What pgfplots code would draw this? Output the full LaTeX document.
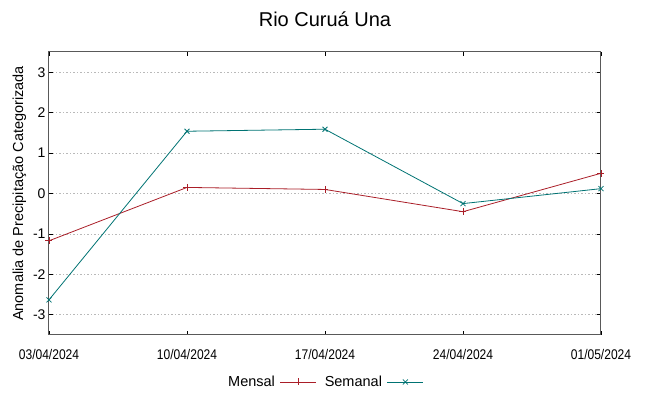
\documentclass[border=0pt]{standalone}
\usepackage{pgfplots}
\pgfplotsset{compat=1.18}
\usepackage{fontspec}
\setmainfont{Liberation Sans}
\newfontfamily\narrow[FakeStretch=0.86]{Liberation Sans}
\definecolor{mensal}{RGB}{170,30,40}
\definecolor{semanal}{RGB}{0,115,115}
\begin{document}
\begin{tikzpicture}
\begin{axis}[
  scale only axis, width=552pt, height=283pt,
  at={(0pt,0pt)}, anchor=south west,
  xmin=0, xmax=4, ymin=-3.5, ymax=3.5,
  xtick={0,1,2,3,4},
  xticklabels={03/04/2024,10/04/2024,17/04/2024,24/04/2024,01/05/2024},
  ytick={-3,-2,-1,0,1,2,3},
  x tick label style={font=\narrow\fontsize{14}{16}\selectfont, yshift=-11pt},
  y tick label style={font=\fontsize{14}{16}\selectfont},
  /pgf/number format/assume math mode=true,
  ymajorgrids, grid style={gray!55, dash pattern=on 1.5pt off 2pt, line width=0.8pt},
  axis line style={black!65, line width=1pt},
  tick style={black, line width=0.6pt}, major tick length=4pt,
  ylabel={Anomalia de Precipitação Categorizada},
  ylabel style={font=\fontsize{14.5}{16}\selectfont, yshift=0pt},
  title={Rio Curuá Una},
  title style={font=\fontsize{20}{22}\selectfont, yshift=16pt},
  legend columns=2, legend plot pos=right,
  legend style={draw=none, fill=none, font=\fontsize{14.5}{16}\selectfont,
    at={(0.5,-0.166)}, anchor=center,
    /tikz/every even column/.append style={column sep=6pt},
    /tikz/every odd column/.append style={column sep=3pt}},
  legend image code/.code={\draw[mark repeat=2, mark phase=2, #1] plot coordinates {(0pt,0pt) (18pt,0pt) (36pt,0pt)};},
]
\addplot[mensal, line width=0.8pt, mark=+, mark size=3.5pt] coordinates {
(0,-1.17) (1,0.15) (2,0.10) (3,-0.45) (4,0.50)};
\addlegendentry{Mensal}
\addplot[semanal, line width=0.8pt, mark=x, mark size=3.5pt] coordinates {
(0,-2.63) (1,1.54) (2,1.59) (3,-0.25) (4,0.12)};
\addlegendentry{Semanal}
\end{axis}
\pgfresetboundingbox
\path[use as bounding box] (-49pt,-61pt) rectangle (600pt,335pt);
\end{tikzpicture}
\end{document}
